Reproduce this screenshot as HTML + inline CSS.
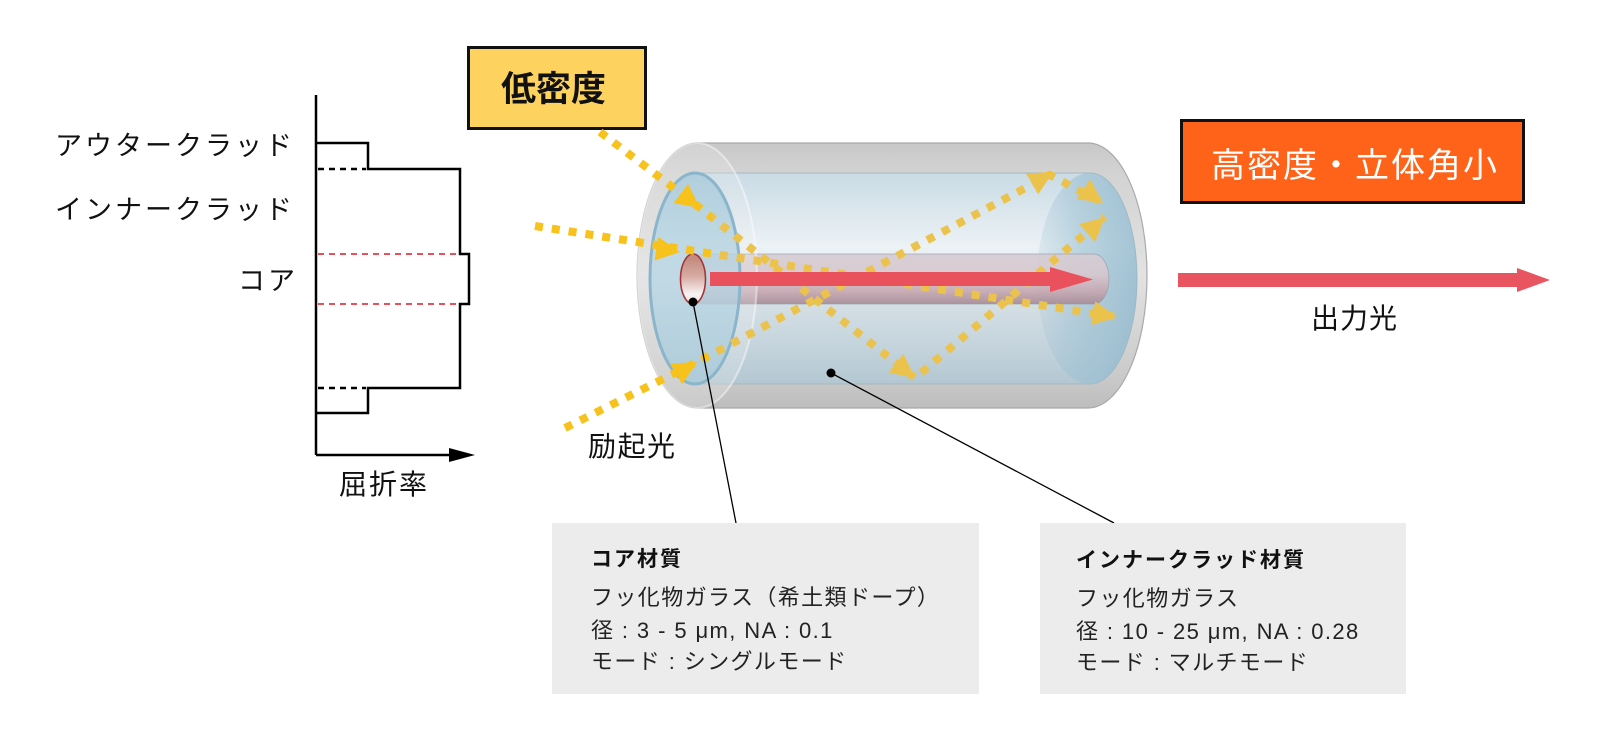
<!DOCTYPE html>
<html><head><meta charset="utf-8">
<style>
html,body{margin:0;padding:0;background:#fff;}
svg{display:block;}
text{font-family:"Liberation Sans","Noto Sans CJK JP",sans-serif;}
.jp{font-family:"Noto Sans CJK JP","Liberation Sans",sans-serif;}
</style></head>
<body>
<svg width="1600" height="738" viewBox="0 0 1600 738" xmlns="http://www.w3.org/2000/svg">
<defs>
  <linearGradient id="gGray" x1="0" y1="0" x2="0" y2="1">
    <stop offset="0" stop-color="#c8c8c8"/>
    <stop offset="0.12" stop-color="#d3d3d3"/>
    <stop offset="0.5" stop-color="#e2e2e2"/>
    <stop offset="0.88" stop-color="#cacaca"/>
    <stop offset="1" stop-color="#bdbdbd"/>
  </linearGradient>
  <linearGradient id="gBlue" x1="0" y1="0" x2="0" y2="1">
    <stop offset="0" stop-color="#c9dbe5"/>
    <stop offset="0.2" stop-color="#dde8ee"/>
    <stop offset="0.35" stop-color="#ecf2f5"/>
    <stop offset="0.6" stop-color="#d6e0e6"/>
    <stop offset="0.85" stop-color="#c2d2db"/>
    <stop offset="1" stop-color="#b3c7d2"/>
  </linearGradient>
  <linearGradient id="gRight" x1="0" y1="0" x2="1" y2="0">
    <stop offset="0" stop-color="#9fc2d5" stop-opacity="0.2"/>
    <stop offset="0.4" stop-color="#9cc0d3" stop-opacity="0.6"/>
    <stop offset="1" stop-color="#8fb6cb" stop-opacity="0.8"/>
  </linearGradient>
  <linearGradient id="gFace" x1="0" y1="0" x2="0" y2="1">
    <stop offset="0" stop-color="#a6c8da"/>
    <stop offset="0.5" stop-color="#b6d4e2"/>
    <stop offset="1" stop-color="#a8c9da"/>
  </linearGradient>
  <linearGradient id="gCore" x1="0" y1="0" x2="0" y2="1">
    <stop offset="0" stop-color="#d6ccd3"/>
    <stop offset="0.4" stop-color="#d8c8cf"/>
    <stop offset="0.75" stop-color="#c6a6b0"/>
    <stop offset="1" stop-color="#a68b96"/>
  </linearGradient>
  <linearGradient id="gCoreEnd" x1="0" y1="0" x2="0" y2="1">
    <stop offset="0.1" stop-color="#c48b80"/>
    <stop offset="0.45" stop-color="#d6aca3"/>
    <stop offset="0.8" stop-color="#f8f2f2"/>
    <stop offset="1" stop-color="#efe2e2"/>
  </linearGradient>
  <clipPath id="clipBlue">
    <path d="M697,173 L1090,173 A47,105.5 0 0 1 1090,384 L697,384 A47,105.5 0 0 1 697,173 Z"/>
  </clipPath>
  <clipPath id="clipIn">
    <rect x="712" y="173" width="430" height="212"/>
  </clipPath>
  <clipPath id="clipOut">
    <path clip-rule="evenodd" d="M0,0 H1600 V738 H0 Z M712,173 H1142 V385 H712 Z"/>
  </clipPath>
  <g id="yellow">
    <polyline points="600,132 700,208 915,378 1105,217" fill="none" stroke-width="8" stroke-dasharray="8 9"/>
    <polyline points="535,226 1117,317" fill="none" stroke-width="8" stroke-dasharray="8 9"/>
    <polyline points="565,428 697,362 1050,175 1103,203" fill="none" stroke-width="8" stroke-dasharray="8 9"/>
    <polygon points="0,0 -24,-12 -24,12" transform="translate(700,208) rotate(37)" stroke="none"/>
    <polygon points="0,0 -24,-12 -24,12" transform="translate(915,378) rotate(38)" stroke="none"/>
    <polygon points="0,0 -24,-12 -24,12" transform="translate(1105,217) rotate(-42)" stroke="none"/>
    <polygon points="0,0 -24,-12 -24,12" transform="translate(680,252) rotate(8)" stroke="none"/>
    <polygon points="0,0 -24,-12 -24,12" transform="translate(1117,317) rotate(9)" stroke="none"/>
    <polygon points="0,0 -24,-12 -24,12" transform="translate(697,362) rotate(-30)" stroke="none"/>
    <polygon points="0,0 -24,-12 -24,12" transform="translate(1053,172) rotate(-30)" stroke="none"/>
    <polygon points="0,0 -24,-12 -24,12" transform="translate(1103,203) rotate(35)" stroke="none"/>
  </g>
</defs>

<!-- Refractive index profile -->
<g fill="none" stroke="#000" stroke-width="2.5">
  <line x1="316" y1="95" x2="316" y2="455"/>
  <line x1="316" y1="455" x2="452" y2="455"/>
  <polyline points="316,143 368,143 368,169 460,169 460,254 469,254 469,304 460,304 460,388 368,388 368,413 316,413"/>
  <line x1="318" y1="169" x2="366" y2="169" stroke-dasharray="6 5"/>
  <line x1="318" y1="388" x2="366" y2="388" stroke-dasharray="6 5"/>
</g>
<polygon points="449,448 475,455 449,462" fill="#000"/>
<g stroke="#e8505b" stroke-width="2" stroke-dasharray="6 5">
  <line x1="318" y1="254" x2="458" y2="254"/>
  <line x1="318" y1="304" x2="458" y2="304"/>
</g>
<text class="jp" x="55" y="155" font-size="27" letter-spacing="3" fill="#111">アウタークラッド</text>
<text class="jp" x="55" y="219" font-size="27" letter-spacing="3" fill="#111">インナークラッド</text>
<text class="jp" x="238" y="290" font-size="27" letter-spacing="3" fill="#111">コア</text>
<text class="jp" x="339" y="494" font-size="28" letter-spacing="2" fill="#111">屈折率</text>

<!-- Yellow label box -->
<rect x="468.5" y="47.5" width="177" height="81" fill="#fed25e" stroke="#111" stroke-width="3"/>
<text class="jp" x="501" y="101" font-size="35" font-weight="bold" fill="#111">低密度</text>

<!-- Orange label box -->
<rect x="1181.5" y="120.5" width="342" height="82" fill="#fe6319" stroke="#111" stroke-width="3"/>
<text class="jp" x="1211" y="177" font-size="34" letter-spacing="2" fill="#fff">高密度・立体角小</text>

<!-- Cylinder -->
<path d="M697,143 L1088,143 A59,132.5 0 0 1 1088,408 L697,408 A60,132.5 0 0 1 697,143 Z" fill="url(#gGray)" stroke="#a9a9a9" stroke-width="1.2"/>
<path d="M697,173 L1090,173 A47,105.5 0 0 1 1090,384 L697,384 A47,105.5 0 0 1 697,173 Z" fill="url(#gBlue)" stroke="#a7b8c2" stroke-width="1"/>
<g clip-path="url(#clipBlue)">
  <ellipse cx="1090" cy="278.5" rx="53" ry="105.5" fill="url(#gRight)"/>
</g>
<path d="M693,254 L1094,254 A15,25 0 0 1 1094,304 L693,304 Z" fill="url(#gCore)" fill-opacity="0.9" stroke="#8e9aa5" stroke-opacity="0.6" stroke-width="1"/>
<ellipse cx="697" cy="275.5" rx="60" ry="132.5" fill="#eeeeee" fill-opacity="0.25" stroke="#ffffff" stroke-opacity="0.45" stroke-width="2"/>
<ellipse cx="695" cy="278.5" rx="45" ry="105.5" fill="url(#gFace)" fill-opacity="0.75" stroke="#8bb5ca" stroke-width="3"/>
<ellipse cx="693" cy="279" rx="12.5" ry="25" fill="url(#gCoreEnd)" stroke="#a3353a" stroke-width="1.6"/>

<!-- Yellow dotted light paths -->
<g clip-path="url(#clipOut)">
  <use href="#yellow" stroke="#f8c21d" fill="#f8c21d"/>
</g>
<g clip-path="url(#clipIn)">
  <use href="#yellow" stroke="#ebc34c" fill="#ebc34c"/>
</g>

<!-- Red arrow in core -->
<rect x="710" y="272" width="341" height="14" fill="#e9525d"/>
<polygon points="1050,267 1093,279.5 1050,292" fill="#e9525d"/>

<!-- Output arrow -->
<rect x="1178" y="273" width="340" height="14" fill="#e8545f"/>
<polygon points="1517,268 1550,280 1517,292" fill="#e8545f"/>
<text class="jp" x="1311" y="328" font-size="28" letter-spacing="1" fill="#111">出力光</text>

<text class="jp" x="588" y="456" font-size="28" letter-spacing="1.5" fill="#111">励起光</text>

<!-- Leader lines -->
<line x1="693" y1="302" x2="736" y2="523" stroke="#000" stroke-width="1.3"/>
<line x1="831" y1="373" x2="1114" y2="523" stroke="#000" stroke-width="1.3"/>
<circle cx="693" cy="302" r="4.5" fill="#000"/>
<circle cx="831" cy="373" r="4.5" fill="#000"/>

<!-- Info boxes -->
<rect x="552" y="523" width="427" height="171" fill="#ececec"/>
<rect x="1040" y="523" width="366" height="171" fill="#ececec"/>

<text x="591" y="566" font-size="21" font-weight="bold" letter-spacing="2" fill="#111">コア材質</text>
<text x="591" y="605" font-size="22" letter-spacing="1.4" fill="#222">フッ化物ガラス（希土類ドープ）</text>
<text x="591" y="638" font-size="22" letter-spacing="1.4" fill="#222">径 : 3 - 5 μm, NA : 0.1</text>
<text x="591" y="669" font-size="22" letter-spacing="1.4" fill="#222">モード : シングルモード</text>

<text x="1076" y="567" font-size="21" font-weight="bold" letter-spacing="2" fill="#111">インナークラッド材質</text>
<text x="1076" y="606" font-size="22" letter-spacing="1.4" fill="#222">フッ化物ガラス</text>
<text x="1076" y="639" font-size="22" letter-spacing="1.4" fill="#222">径 : 10 - 25 μm, NA : 0.28</text>
<text x="1076" y="670" font-size="22" letter-spacing="1.4" fill="#222">モード : マルチモード</text>
</svg>
</body></html>
